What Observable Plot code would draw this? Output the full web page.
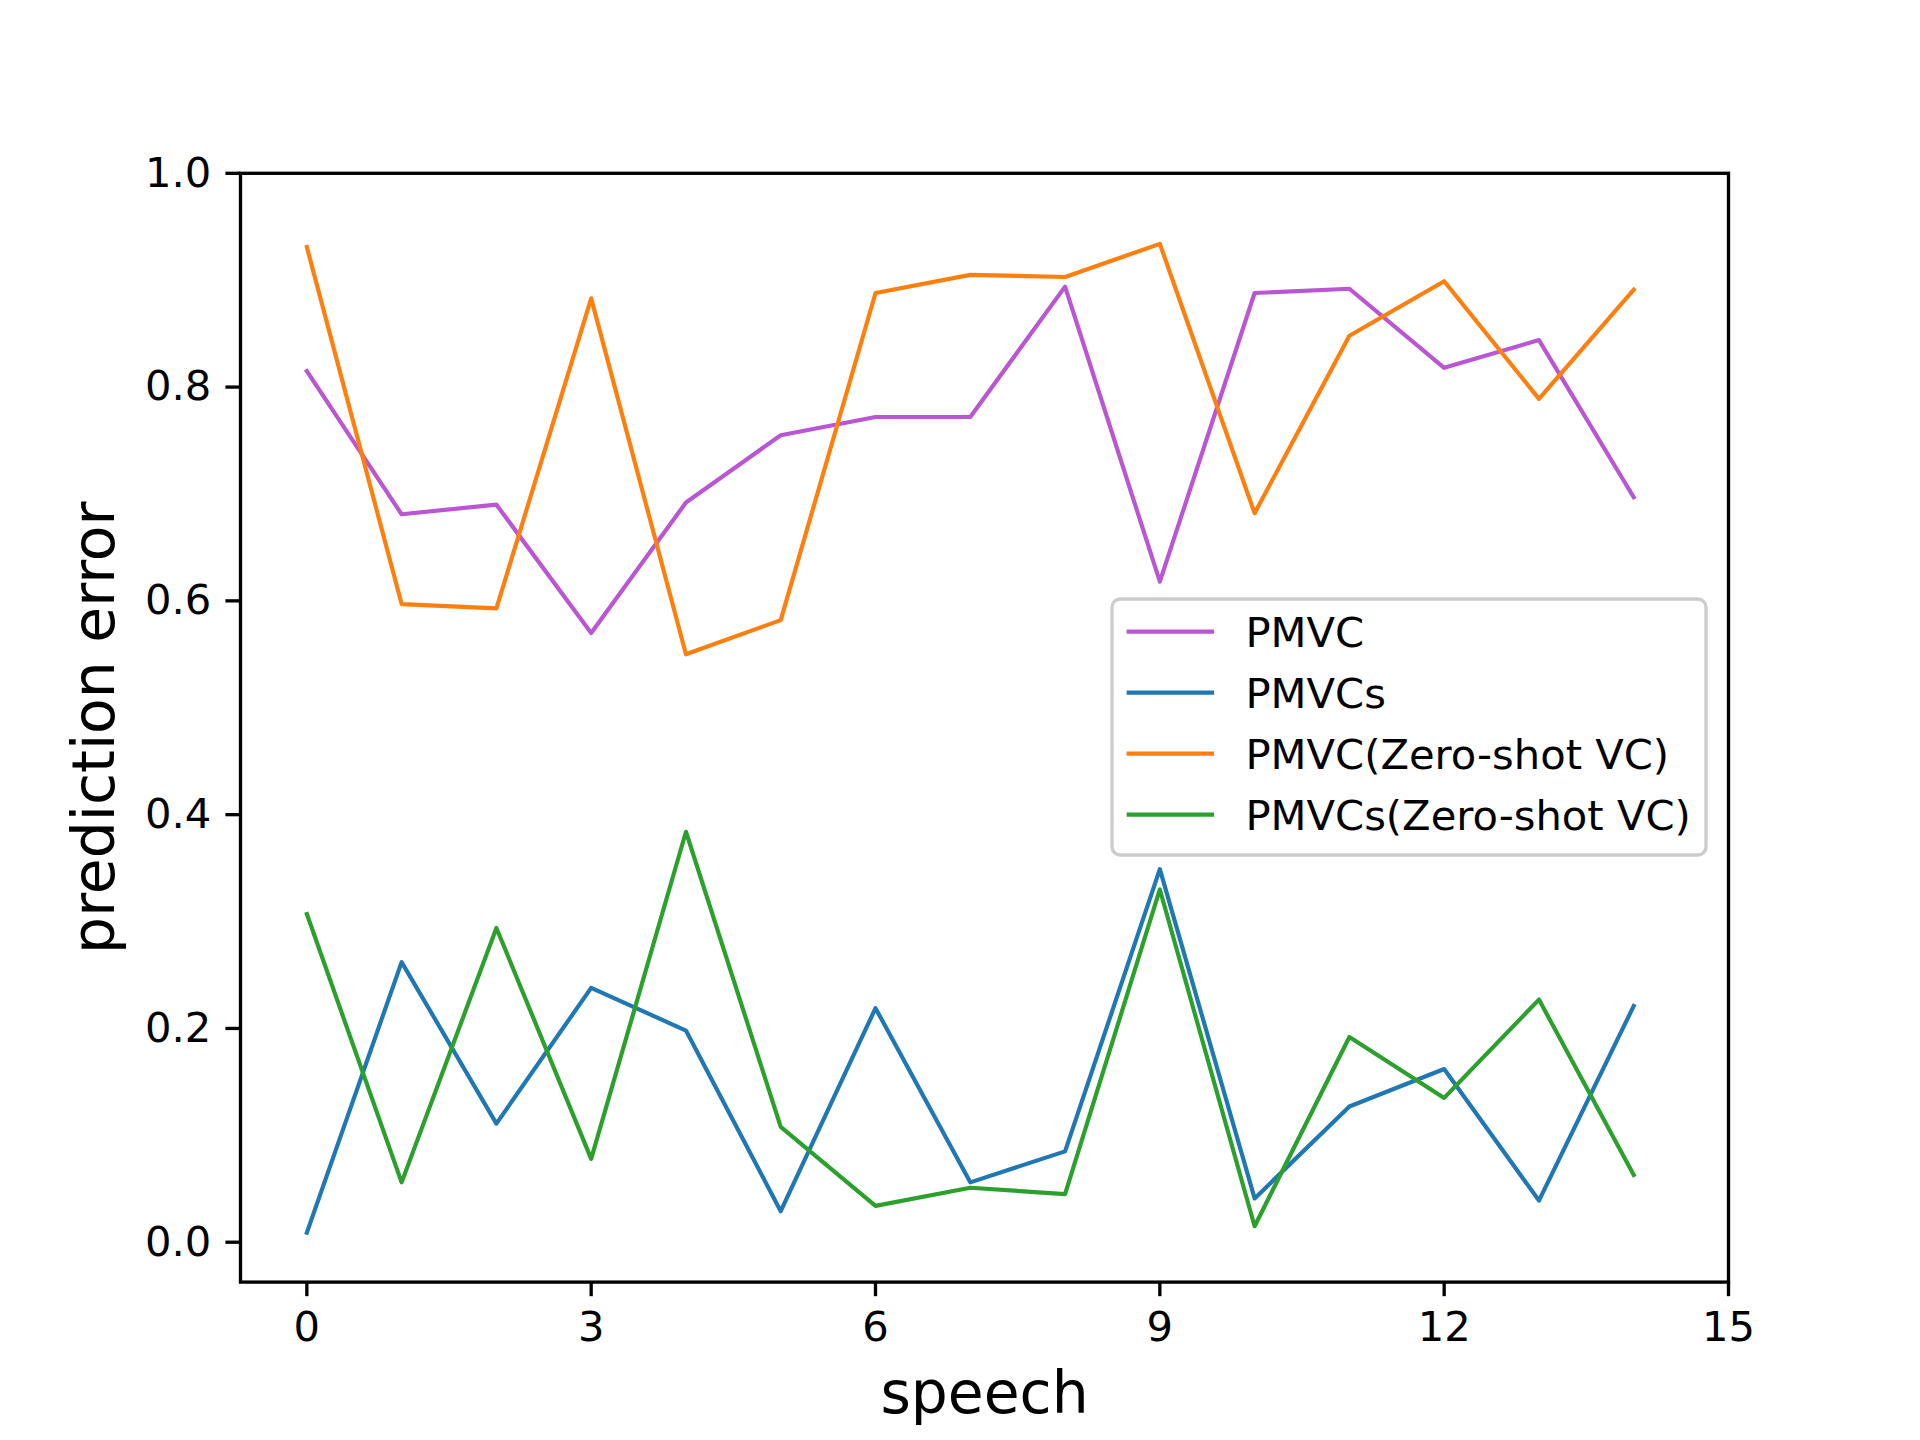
<!DOCTYPE html>
<html>
<head>
<meta charset="utf-8">
<script src="https://cdn.jsdelivr.net/npm/d3@7"></script>
<script src="https://cdn.jsdelivr.net/npm/@observablehq/plot@0.6"></script>
<style>
  html, body { margin: 0; padding: 0; background: white; }
  #chart { width: 1920px; height: 1440px; }
</style>
</head>
<body>
<div id="chart"></div>
<script>
const speech = [0, 1, 2, 3, 4, 5, 6, 7, 8, 9, 10, 11, 12, 13, 14];
const seriesNames = ["PMVC", "PMVCs", "PMVC(Zero-shot VC)", "PMVCs(Zero-shot VC)"];
const seriesColors = ["#ba55d3", "#1f77b4", "#ff7f0e", "#2ca02c"];
const pmvc = [0.815, 0.681, 0.690, 0.570, 0.692, 0.755, 0.772, 0.772, 0.894, 0.618, 0.888, 0.892, 0.818, 0.844, 0.697];
const pmvcs = [0.009, 0.262, 0.111, 0.238, 0.198, 0.029, 0.219, 0.056, 0.085, 0.349, 0.041, 0.127, 0.162, 0.039, 0.221];
const pmvcZero = [0.931, 0.597, 0.593, 0.883, 0.550, 0.582, 0.888, 0.905, 0.903, 0.934, 0.682, 0.848, 0.899, 0.789, 0.891];
const pmvcsZero = [0.307, 0.056, 0.294, 0.078, 0.384, 0.108, 0.034, 0.051, 0.045, 0.330, 0.015, 0.192, 0.135, 0.227, 0.063];
const xTicks = [0, 3, 6, 9, 12, 15];
const yTicks = [0.0, 0.2, 0.4, 0.6, 0.8, 1.0];
const xLabel = "speech";
const yLabel = "prediction error";

const seriesValues = [pmvc, pmvcs, pmvcZero, pmvcsZero];
const rows = [];
seriesNames.forEach((name, i) => {
  speech.forEach((s, j) => rows.push({series: name, speech: s, value: seriesValues[i][j]}));
});

const LW = 4.17;      // 1pt at 300dpi
const AW = 3.333;     // 0.8pt
const TICK = 14.58;   // 3.5pt
const FS = 41.67;     // 10pt
const LFS = 58.33;    // 14pt

const chart = Plot.plot({
  width: 1920,
  height: 1440,
  marginLeft: 240,
  marginRight: 192,
  marginTop: 172.8,
  marginBottom: 158.4,
  style: {fontFamily: "DejaVu Sans", background: "white", color: "black", overflow: "visible"},
  x: {domain: [-0.7, 15]},
  y: {domain: [-0.0373, 1.0]},
  color: {domain: seriesNames, range: seriesColors},
  marks: [
    Plot.line(rows, {
      x: "speech", y: "value", z: "series", stroke: "series",
      strokeWidth: LW, strokeLinejoin: "round", strokeLinecap: "square"
    }),
    Plot.frame({stroke: "black", strokeWidth: AW}),
    Plot.axisX({ticks: xTicks, tickSize: TICK, tickPadding: TICK, fontSize: FS, strokeWidth: AW, label: null, tickFormat: d3.format("d")}),
    Plot.axisY({ticks: yTicks, tickSize: TICK, tickPadding: TICK, fontSize: FS, strokeWidth: AW, label: null, tickFormat: d3.format(".1f")}),
    Plot.text([xLabel], {text: d => d, frameAnchor: "bottom", dy: 130.5, lineAnchor: "bottom", textAnchor: "middle", fontSize: LFS}),
    Plot.text([yLabel], {text: d => d, frameAnchor: "left", dx: -127, lineAnchor: "bottom", textAnchor: "middle", rotate: -90, fontSize: LFS})
  ]
});

document.getElementById("chart").appendChild(chart);

// Legend (matplotlib-style box) drawn inside the SVG
const svg = d3.select(chart);
const lg = svg.append("g").attr("font-family", "DejaVu Sans").attr("text-anchor", "start");
lg.append("rect")
  .attr("x", 1112).attr("y", 599).attr("width", 594).attr("height", 256)
  .attr("rx", 8.3).attr("ry", 8.3)
  .attr("fill", "white").attr("fill-opacity", 0.8)
  .attr("stroke", "#cccccc").attr("stroke-width", AW);
seriesNames.forEach((name, i) => {
  const cy = 631.7 + i * 61;
  lg.append("line")
    .attr("x1", 1128.7).attr("x2", 1212).attr("y1", cy).attr("y2", cy)
    .attr("stroke", seriesColors[i]).attr("stroke-width", LW).attr("stroke-linecap", "square");
  lg.append("text")
    .attr("x", 1245.5).attr("y", cy).attr("dy", "0.36em")
    .attr("text-anchor", "start")
    .attr("font-size", FS).attr("fill", "black")
    .text(name);
});
</script>
</body>
</html>
